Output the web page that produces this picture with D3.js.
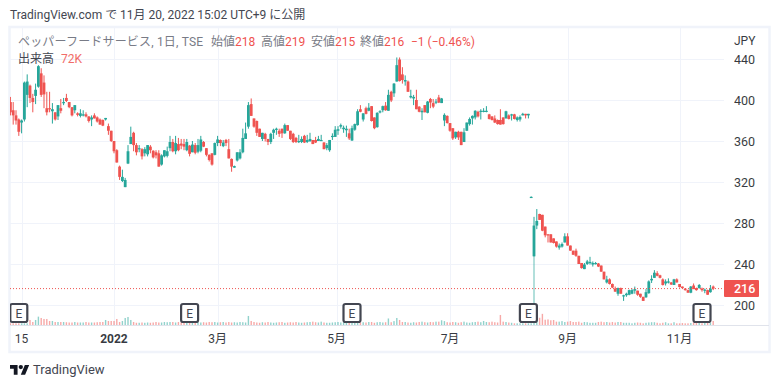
<!DOCTYPE html>
<html><head><meta charset="utf-8">
<script src="https://cdn.jsdelivr.net/npm/d3@7"></script>
<style>html,body{margin:0;padding:0;background:#fff}svg{display:block;font-family:Roboto,"Noto Sans CJK JP",sans-serif}</style>
</head><body><svg id="c" width="780" height="388"></svg>
<script>
const opens=[398,390,385,381,378,381,405,414,402,404,413,426,417,392,392,389,388,384,392,397,402,398,393,390,387,384.5,385.5,386,384,381,385,383,381,380.5,381,
374.5,370,360,351,335,321,315,338,357,368,356,352,352,348,347,354.5,350.5,349,348,337,345,345.5,353,359,350,357,357.5,357,351,355.5,349,356,349.5,350.5,359,353,346.5,348,346.5,358,361,355,361,352,342.5,334,341,343,349,362,374,
396,382,379.5,372,362,367,362,359,368,371,370,372,367.5,375.5,370,367,363,359,359,365,359,360,361,361,360,360,358.5,353,351,364,364,370,374,371.5,370.5,367.5,360.5,371,375.5,391,381,392,389.5,394,383,373.5,388,390,394.5,389.5,408,406.5,418,439.5,425,418,418,402.5,401.5,400,393.5,388,395,387.5,401,397,397.5,402.5,397,
380,384.5,377.5,372.5,363.5,369,369,359,370,376.5,382,383,388.5,388.5,388.5,388.5,386,384,382,380.5,380.5,383,382,385,385,386,380.5,381,385,386.5,385,
305,247.5,277.5,288.8,288,276.5,269,269,265,262,256,257,261,267,258,253,253,248,241,235,240,241,239.5,240.5,240.5,238.5,232.5,222,225,220.5,216,211,216.5,208.5,209.5,210,211,214,214,211,208,207.5,211.5,224,226.5,231,229,225,221,222,222,219.5,225,220.5,218,216,214.5,212,219,216.5,216.5,216,214,214.5,212.5,218];
const highs=[403,398,390,382,381,418,425,415,406,416,434,431,424,408,408,397,388,395,401,402,406,398,393,395,388,391,390,388,384,385,387,384,382,381,382.5,
377,370,360,352,336,332,324,356,374,369,358,356,353,354,356,356,351,351,351,347,351,354.5,365,362,365,363,362,362,362,356,360,358,362,365,360,353,347,348,358.5,365,361.5,361,362,362,343,336,349,352,372,378,398,
401.5,382,380,372,368,368,362,368,372,373,372,372,377,375.5,370,368,364,366,364.5,366,366,368,361,364,365,366,359,358,361,367.5,374.5,374.5,377,375,375,372,375,377,391,395,387,393.5,397,394,383,388,390,394.5,398,410,409,416.5,441.5,441.5,432,424,419,410,405,410,394,392,395,399,402,401,401,405,402,
387,385,377.5,372.5,369,370,369,372.5,378,383,385,390,389.5,391,392,394,386.5,384,385,381,391,383,389.5,386,386.5,386.5,384,385,387.5,386.5,386.5,
306,286,293.6,289,288,276.5,269,269,265,262,260,261,270,270,258,253,255,248,241,241,244,247,242.5,242,241,238.5,232.5,228.5,226,221,218,217,217,210,212,215,216,218,214,211,208,215.5,224,229,234,233,229.5,226,225,226,222.5,225.5,226,220.5,218,216.5,215,218.5,221,217,220.5,217,216,215,219.5,219];
const lows=[385,376,376,365,367.5,379,393,397,388,396,412,403,392,385,388,377,380,380.5,387,395,398,392,384,387,384,383,384,383,378,374.5,382,378,376,374.5,380,
366,359,348,339,322,320,315,337.5,357,350,346,349,342,345,345,348,343,343,335,336,344,344,350,349,347,350,352,351,350,345,349,347,348,349,354,345,340,336,346,355,355,354,355,343,330,334,340,342,348,362,372,
384.5,373,365,364,360,359.5,356,357,362,366,364,363,367,370,361,358,358,358,358,358,358,359,357,358,360,360,352,351,349.5,361,364,366,372,368,364,361,360,370,375,388,379,386,389,379,371.5,373,387,388,389.5,389.5,398,403,418,418,416,414,408,401.5,395,391,388,380.5,388,387,392,392,396,397,397,
374.5,377,369,361,362,361,356,359,370,375,376,381,383,381,388,388,381,380,377.5,376,376,376,382,381,380,381,379,379,385,382,382,
305,247.5,274,283,272,266,261,261,260,256,254,256,261,258,253,249,247,240,235.5,235,239,239.5,237.5,239.5,237,232.5,225,221,220,216.5,213,209,211,204,208,209.5,210.5,211,209,207,204,207,211,221.5,226.5,228,226,219,219,221,219.5,219.5,222,217,216,214,212,211.5,215.5,214,216,213,211.5,210,212,214.5];
const closes=[388,385,380,369,380,417,418,402,398,410,433,405,405.5,388,391,391,381,395,389.5,398,399,393,385,395,385.5,387,386,384,379.5,383,382,379,376,375,382.5,
370,360,350,339,325,325,322,350,364,356,349,353,345,352,356,351,344,346,335,346,351,350,359,350,358,351,355.5,354.5,359,347.5,356.5,348.5,356,361.5,354.5,346.5,341.5,337,358,361.5,358,358.5,358,343,335,335.5,349,349,363,367.5,395,
384.5,374,368,364,368,362,359,367,371,372,367,367.5,375.5,370,362,359,359,360,362,358.5,361,362,357,358.5,362,361,352,356,361,365,371,371.5,375.5,373,372,362.5,372.5,376.5,389,388.5,387,386.5,392.5,379.5,372.5,387.5,389,394,390,405,399.5,416,434,418.5,419.5,419.5,408,404,403,391,388.5,389.5,388,398.5,397.5,393.5,398.5,397.5,401.5,
385.5,377.5,370,362.5,369,363.5,356,368.5,378,381.5,384.5,389.5,384,389.5,389.5,389.5,381.5,380.5,378,376.5,376,376.5,389,381.5,386,381.5,383,383.5,386.5,385,386.5,
305.5,277.5,282,283,272.5,268,268,261,260.5,257,258,259.5,267,258,253,249,248,240,236,239.5,242.5,242,241,241,237.5,232.5,225,225,220.5,217,213,216.5,211,209.5,211,214.5,214.5,215.5,210,208,204,212.5,223,225.5,231.5,228.5,226.5,219.5,223,223,220,225,222,217.5,216.5,214.5,212,218,215.5,214.5,219.5,214.5,215,210,216,216];
const volumes=[30,30,30,30,30,30,30,90,54,90,150,126,108,108,72,72,54,54,54,54,50,45,45,54,45,45,45,54,45,45,45,50,54,54,90,72,72,72,108,54,72,126,144,90,54,
40,40,45,40,45,40,45,54,45,45,54,50,54,54,45,54,50,45,50,45,54,50,54,45,50,45,54,50,54,45,50,54,45,54,45,50,45,54,50,45,162,72,
54,45,40,50,45,54,45,40,45,50,54,40,45,50,45,54,45,40,45,50,54,60,50,45,60,45,40,40,45,50,54,45,50,45,60,40,50,54,45,50,45,54,54,40,50,54,45,50,117,50,70,126,90,54,
54,45,40,50,45,54,60,50,45,54,50,60,60,85,70,50,45,54,50,40,50,60,45,40,50,54,60,50,72,54,50,60,50,45,180,60,54,45,40,30,30,30,30,30,30,30,
1240,90,130,200,95,100,85,90,60,60,70,54,60,70,54,54,60,40,54,50,40,40,40,54,60,50,54,45,54,45,54,54,40,40,40,30,40,45,40,30,40,45,50,50,40,30,40,50,30,30,50,30,30,35,30,30,35,45,35,40,30,50,40,40,72];
const priceTicks=[200,240,280,320,360,400,440];
const timeLabels=["15","2022","3月","5月","7月","9月","11月"];
const timeIdx=[4,37,74,116.5,157,199,239];
const earningsIdx=[3,64,122,185,247];
const lastClose=216;
const legendLabels=["始値","高値","安値","終値"];
const legendValues=["218","219","215","216"];

const UP="#26a69a",DN="#ef5350",GRID="#f0f3fa",TXT="#131722",MUT="#787b86";
const svg=d3.select("#c");
const x=d3.scaleLinear().domain([0,251]).range([10.4,713.2]);
const y=d3.scaleLinear().domain([200,440]).range([305,59]);
const v=d3.scaleLinear().domain([0,1240]).range([325,256]);
const left=10,right=724,top0=28,bottom=325;
svg.append("defs").append("clipPath").attr("id","p").append("rect").attr("x",left).attr("y",top0).attr("width",right-left).attr("height",bottom-top0);
svg.append("rect").attr("x",9.5).attr("y",27).attr("width",760).attr("height",325).attr("fill","#fff").attr("stroke",GRID).attr("stroke-width",2.5);
const g=svg.append("g").attr("clip-path","url(#p)");
g.selectAll(".hg").data(priceTicks).join("line").attr("x1",left).attr("x2",right)
 .attr("y1",d=>Math.round(y(d))+.5).attr("y2",d=>Math.round(y(d))+.5).attr("stroke",GRID);
g.selectAll(".vg").data(timeIdx).join("line").attr("y1",top0).attr("y2",bottom)
 .attr("x1",d=>Math.round(x(d))+.5).attr("x2",d=>Math.round(x(d))+.5).attr("stroke",GRID);
const col=i=>closes[i]>=opens[i]?UP:DN;
const idx=d3.range(opens.length);
g.selectAll(".vol").data(idx).join("rect").attr("x",i=>x(i)-.7).attr("width",1.4)
 .attr("y",i=>v(volumes[i]||0)).attr("height",i=>325-v(volumes[i]||0)).attr("fill",col).attr("opacity",.5);
g.selectAll(".w").data(idx).join("line").attr("x1",i=>x(i)).attr("x2",i=>x(i))
 .attr("y1",i=>y(highs[i])).attr("y2",i=>y(lows[i])).attr("stroke",col).attr("stroke-width",1);
g.selectAll(".b").data(idx).join("rect").attr("x",i=>x(i)-1.4).attr("width",2.8)
 .attr("y",i=>y(Math.max(opens[i],closes[i])))
 .attr("height",i=>Math.max(1.2,Math.abs(y(opens[i])-y(closes[i])))).attr("fill",col);
g.append("line").attr("x1",left).attr("x2",right).attr("y1",y(lastClose)).attr("y2",y(lastClose))
 .attr("stroke",DN).attr("stroke-width",1).attr("stroke-dasharray","1 2");
svg.append("line").attr("x1",left).attr("x2",769).attr("y1",325.5).attr("y2",325.5).attr("stroke","#e0e3eb");
const e=g.selectAll(".e").data(earningsIdx).join("g").attr("transform",i=>`translate(${x(i)},313)`);
e.append("rect").attr("x",-8.5).attr("y",-9).attr("width",17).attr("height",18).attr("rx",2)
 .attr("fill","#fff").attr("stroke","#434651").attr("stroke-width",2.2);
e.append("text").attr("text-anchor","middle").attr("y",4.5).attr("font-size",12).attr("fill","#434651").text("E");
svg.selectAll(".pt").data(priceTicks).join("text").attr("x",734).attr("y",d=>y(d)+4.5)
 .attr("font-size",12.5).attr("fill",TXT).attr("opacity",.85).text(d=>d);
svg.append("text").attr("x",734).attr("y",45).attr("font-size",12).attr("fill",TXT).attr("opacity",.85).text("JPY");
svg.append("rect").attr("x",724).attr("y",280).attr("width",35).attr("height",17).attr("rx",1).attr("fill",DN);
svg.append("text").attr("x",734).attr("y",293).attr("font-size",12.5).attr("font-weight",500).attr("fill","#fff").text(lastClose);
svg.selectAll(".tl").data(timeLabels).join("text").attr("x",(d,i)=>x(timeIdx[i])).attr("y",343)
 .attr("text-anchor","middle").attr("font-size",12).attr("fill",TXT).attr("opacity",.85)
 .attr("font-weight",d=>d==="2022"?700:400).text(d=>d);
svg.append("text").attr("x",10).attr("y",19).attr("font-size",12).attr("fill","#434651")
 .text("TradingView.com で 11月 20, 2022 15:02 UTC+9 に公開");
const t=svg.append("text").attr("y",46).attr("font-size",12).attr("fill",MUT);
t.append("tspan").attr("x",18).attr("textLength",185).text("ペッパーフードサービス, 1日, TSE");
const legendX=[211,261,311,360];
legendLabels.forEach((s,i)=>{
  t.append("tspan").attr("x",legendX[i]).text(s);
  t.append("tspan").attr("fill",DN).text(legendValues[i]);
});
t.append("tspan").attr("x",411).attr("fill",DN).text("−1 (−0.46%)");
const t2=svg.append("text").attr("x",18).attr("y",63).attr("font-size",12);
t2.append("tspan").attr("fill","#434651").text("出来高");
t2.append("tspan").attr("x",61).attr("fill",DN).attr("opacity",.85).text("72K");
const lg=svg.append("g").attr("transform","translate(10,362.8) scale(.54)").attr("fill","#131722");
lg.append("path").attr("d","M14 22H7V11H0V4h14v18zM28 22h-8l7.5-18h8L28 22z");
lg.append("circle").attr("cx",20).attr("cy",8).attr("r",4);
svg.append("text").attr("x",33).attr("y",374).attr("font-size",13).attr("fill","#434651").text("TradingView");
</script></body></html>
